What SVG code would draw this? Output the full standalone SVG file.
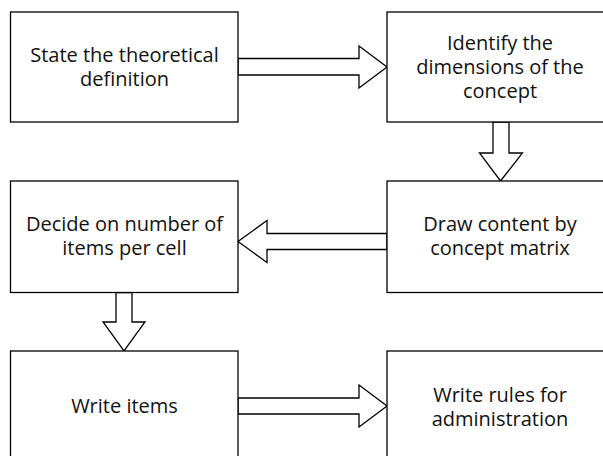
<svg xmlns="http://www.w3.org/2000/svg" width="603" height="456" viewBox="0 0 603 456">
  <style>
    .box { fill: #ffffff; stroke: #000000; stroke-width: 1.3; }
    .arrow { fill: #ffffff; stroke: #000000; stroke-width: 1.3; stroke-linejoin: miter; }
    .label { font-family: "Open Sans", "Liberation Sans", sans-serif; font-size: 20px; fill: #111111; text-anchor: middle; }
  </style>
  <rect width="603" height="456" fill="#ffffff"/>

  <g id="connectors">
    <!-- theoretical definition -> dimensions -->
    <polygon class="arrow" points="238,58.5 359,58.5 359,46 387,67 359,88 359,75 238,75"/>
    <!-- dimensions -> content matrix -->
    <polygon class="arrow" points="493,122 493,153 479.5,153 500.5,181 522.5,153 509,153 509,122"/>
    <!-- content matrix -> items per cell -->
    <polygon class="arrow" points="387,233.5 267,233.5 267,220.5 238,241.5 267,262.5 267,249.5 387,249.5"/>
    <!-- items per cell -> write items -->
    <polygon class="arrow" points="116,292.5 116,322 103,322 124,351 145,322 132,322 132,292.5"/>
    <!-- write items -> rules for administration -->
    <polygon class="arrow" points="238,398 359,398 359,385 387,406 359,427 359,414 238,414"/>
  </g>

  <g id="node-definition">
    <rect class="box" x="10.5" y="12" width="227.5" height="110"/>
    <text class="label" x="124.5" y="62">State the theoretical</text>
    <text class="label" x="124.5" y="86">definition</text>
  </g>

  <g id="node-dimensions">
    <rect class="box" x="387" y="12" width="227.5" height="110"/>
    <text class="label" x="500" y="49.5">Identify the</text>
    <text class="label" x="500" y="73.5">dimensions of the</text>
    <text class="label" x="500" y="97.5">concept</text>
  </g>

  <g id="node-content-matrix">
    <rect class="box" x="387" y="181" width="227.5" height="111.5"/>
    <text class="label" x="500" y="230.5">Draw content by</text>
    <text class="label" x="500" y="254.5">concept matrix</text>
  </g>

  <g id="node-items-per-cell">
    <rect class="box" x="10.5" y="181" width="227.5" height="111.5"/>
    <text class="label" x="124.5" y="230.5">Decide on number of</text>
    <text class="label" x="124.5" y="254.5">items per cell</text>
  </g>

  <g id="node-write-items">
    <rect class="box" x="10.5" y="351" width="227.5" height="111"/>
    <text class="label" x="124.5" y="412.5">Write items</text>
  </g>

  <g id="node-rules">
    <rect class="box" x="387" y="351" width="227.5" height="111"/>
    <text class="label" x="500" y="401.5">Write rules for</text>
    <text class="label" x="500" y="425.5">administration</text>
  </g>
</svg>
